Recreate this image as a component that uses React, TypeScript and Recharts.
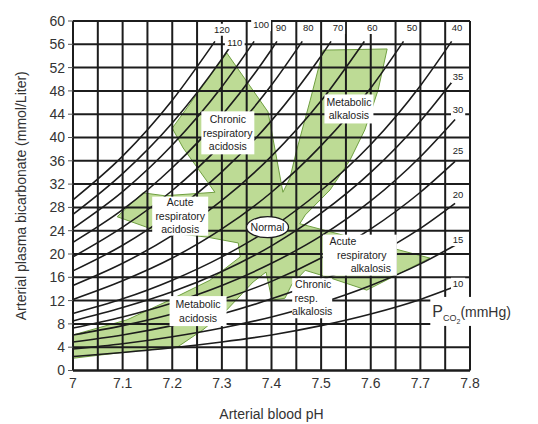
import React from "react"
import { CartesianGrid, ComposedChart, Scatter, XAxis, YAxis } from "recharts"

// PCO2 isopleths, [pH, HCO3-]
const iso10 = [[7.0, 2.4], [7.1, 3.1], [7.2, 3.9], [7.3, 4.9], [7.4, 6.1], [7.5, 7.7], [7.6, 9.7], [7.7, 12.2], [7.77, 14.4]]
const iso15 = [[7.0, 3.7], [7.1, 4.6], [7.2, 5.8], [7.3, 7.3], [7.4, 9.2], [7.5, 11.6], [7.6, 14.6], [7.7, 18.3], [7.77, 21.5]]
const iso20 = [[7.0, 4.9], [7.1, 6.1], [7.2, 7.7], [7.3, 9.7], [7.4, 12.3], [7.5, 15.4], [7.6, 19.4], [7.7, 24.4], [7.77, 28.7]]
const iso25 = [[7.0, 6.1], [7.1, 7.7], [7.2, 9.7], [7.3, 12.2], [7.4, 15.3], [7.5, 19.3], [7.6, 24.3], [7.7, 30.6], [7.77, 35.9]]
const iso30 = [[7.0, 7.3], [7.1, 9.2], [7.2, 11.6], [7.3, 14.6], [7.4, 18.4], [7.5, 23.1], [7.6, 29.1], [7.7, 36.7], [7.77, 43.1]]
const iso35 = [[7.0, 8.5], [7.1, 10.8], [7.2, 13.5], [7.3, 17.0], [7.4, 21.4], [7.5, 27.0], [7.6, 34.0], [7.7, 42.8], [7.77, 50.2]]
const iso40 = [[7.0, 9.8], [7.1, 12.3], [7.2, 15.5], [7.3, 19.5], [7.4, 24.5], [7.5, 30.9], [7.6, 38.8], [7.7, 48.9], [7.763, 56.5]]
const iso50 = [[7.0, 12.2], [7.1, 15.4], [7.2, 19.3], [7.3, 24.3], [7.4, 30.6], [7.5, 38.6], [7.6, 48.5], [7.666, 56.5]]
const iso60 = [[7.0, 14.6], [7.1, 18.4], [7.2, 23.2], [7.3, 29.2], [7.4, 36.8], [7.5, 46.3], [7.587, 56.5]]
const iso70 = [[7.0, 17.1], [7.1, 21.5], [7.2, 27.1], [7.3, 34.1], [7.4, 42.9], [7.5, 54.0], [7.52, 56.5]]
const iso80 = [[7.0, 19.5], [7.1, 24.6], [7.2, 30.9], [7.3, 38.9], [7.4, 49.0], [7.462, 56.5]]
const iso90 = [[7.0, 22.0], [7.1, 27.6], [7.2, 34.8], [7.3, 43.8], [7.4, 55.1], [7.411, 56.5]]
const iso100 = [[7.0, 24.4], [7.1, 30.7], [7.2, 38.7], [7.3, 48.7], [7.365, 56.5]]
const iso110 = [[7.0, 26.8], [7.1, 33.8], [7.2, 42.5], [7.3, 53.5], [7.324, 56.5]]
const iso120 = [[7.0, 29.3], [7.1, 36.8], [7.2, 46.4], [7.286, 56.5]]

const isopleths = [iso10, iso15, iso20, iso25, iso30, iso35, iso40, iso50, iso60, iso70, iso80, iso90, iso100, iso110, iso120]

// outline of the shaded (green) disorder zones
const regionPh = [7.310, 7.393, 7.423, 7.437, 7.451, 7.478, 7.504, 7.633, 7.615, 7.588, 7.558, 7.518, 7.468, 7.457, 7.719, 7.592, 7.518, 7.468, 7.441, 7.427, 7.401, 7.389, 7.363, 7.310, 7.262, 7.210, 7.109, 7.000, 7.000, 7.109, 7.195, 7.276, 7.337, 7.333, 7.270, 7.175, 7.089, 7.141, 7.185, 7.286, 7.222, 7.200, 7.310]
const regionHco3 = [54.5, 44.4, 30.6, 33.0, 37.9, 46.4, 55.0, 55.2, 48.2, 41.3, 36.1, 31.0, 26.7, 25.2, 19.3, 13.8, 15.9, 17.2, 14.8, 12.4, 12.1, 16.9, 15.2, 10.4, 7.0, 4.0, 3.2, 2.1, 6.1, 8.7, 12.1, 15.5, 19.5, 21.9, 22.9, 23.8, 26.4, 30.5, 30.0, 30.6, 38.2, 41.6, 54.5]

const regionLabels = ["Chronic\nrespiratory\nacidosis", "Metabolic\nalkalosis", "Acute\nrespiratory\nacidosis", "Acute\nrespiratory\nalkalosis", "Chronic\nresp.\nalkalosis", "Metabolic\nacidosis"]
const regionLabelPh = [7.312, 7.556, 7.216, 7.578, 7.482, 7.252]
const regionLabelHco3 = [40.8, 44.9, 26.5, 19.8, 12.4, 10.2]

const normalPh = 7.392
const normalHco3 = 24.6

const pco2Labels = ["120", "110", "100", "90", "80", "70", "60", "50", "40", "35", "30", "25", "20", "15", "10"]
const pco2LabelPh = [7.300, 7.326, 7.379, 7.419, 7.474, 7.534, 7.603, 7.683, 7.774, 7.776, 7.776, 7.776, 7.776, 7.776, 7.776]
const pco2LabelHco3 = [58.5, 56.2, 59.3, 58.8, 58.8, 58.8, 58.8, 58.8, 58.8, 50.4, 44.7, 37.8, 30.1, 22.4, 14.9]

const phTicks = [7, 7.05, 7.1, 7.15, 7.2, 7.25, 7.3, 7.35, 7.4, 7.45, 7.5, 7.55, 7.6, 7.65, 7.7, 7.75, 7.8]
const hco3Ticks = [0, 4, 8, 12, 16, 20, 24, 28, 32, 36, 40, 44, 48, 52, 56, 60]

const W = 530
const H = 416
const FONT = "'Liberation Sans', Arial, sans-serif"
const INK = "#1c1c1c"

const boxSizes = [[53, 43], [49, 29], [56, 39], [74, 41], [40, 40], [57, 30]]
const lineShift = [[0, 0, 0], [0, 0], [0, 0, 0], [-17, 2, 11], [1, -6, 0], [0, 0]]

const toPts = (arr: number[][]) => arr.map(([x, y]) => ({ x, y }))
const Nothing = () => <g />

function RegionLabel(props: any) {
  const { cx, cy, payload } = props
  const [w, h] = boxSizes[payload.i]
  const lines = payload.text.split("\n")
  const lh = 13.5
  const y0 = cy - ((lines.length - 1) * lh) / 2
  return (
    <g>
      <rect x={cx - w / 2} y={cy - h / 2} width={w} height={h} fill="#fff" />
      {lines.map((l: string, k: number) => (
        <text key={k} x={cx + lineShift[payload.i][k]} y={y0 + k * lh} dy="0.35em" textAnchor="middle" fontSize={10.5} fill="#222" fontFamily={FONT}>
          {l}
        </text>
      ))}
    </g>
  )
}

function NormalMark(props: any) {
  const { cx, cy } = props
  return (
    <g>
      <ellipse cx={cx} cy={cy} rx={21} ry={10.5} fill="#fff" stroke={INK} strokeWidth={1.3} />
      <text x={cx} y={cy} dy="0.35em" textAnchor="middle" fontSize={10.5} fill="#222" fontFamily={FONT}>
        Normal
      </text>
    </g>
  )
}

function Pco2Label(props: any) {
  const { cx, cy, payload } = props
  const w = payload.text.length * 5.6 + 3
  return (
    <g>
      <rect x={cx - w / 2} y={cy - 6} width={w} height={12} fill="#fff" />
      <text x={cx} y={cy} dy="0.35em" textAnchor="middle" fontSize={9.5} fill="#222" fontFamily={FONT}>
        {payload.text}
      </text>
    </g>
  )
}

function Pco2Title(props: any) {
  const { cx, cy } = props
  return (
    <g>
      <rect x={cx} y={cy - 13} width={104} height={29} fill="#fff" />
      <text x={cx + 2} y={cy + 7} fontSize={16} fill="#333" fontFamily={FONT}>
        P
        <tspan fontSize={9} dy={4}>CO</tspan>
        <tspan fontSize={7} dy={3}>2</tspan>
        <tspan fontSize={14} dy={-7}>(mmHg)</tspan>
      </text>
    </g>
  )
}

export default function App() {
  const regionData = regionPh.map((x, i) => ({ x, y: regionHco3[i] }))
  const labelData = regionLabels.map((text, i) => ({ x: regionLabelPh[i], y: regionLabelHco3[i], text, i }))
  const pco2Data = pco2Labels.map((text, i) => ({ x: pco2LabelPh[i], y: pco2LabelHco3[i], text }))

  const tickStyle = { fontSize: 14, fill: "#333", fontFamily: FONT }

  return (
    <div style={{ position: "relative", width: W, height: H, fontFamily: FONT }}>
      {/* shaded zones underneath the grid */}
      <div style={{ position: "absolute", left: 0, top: 0 }}>
        <ComposedChart width={W} height={H} margin={{ top: 13, right: 68, bottom: 53.5, left: 65 }}>
          <XAxis type="number" dataKey="x" domain={[7, 7.8]} hide />
          <YAxis type="number" dataKey="y" domain={[0, 60]} hide />
          <Scatter
            data={regionData}
            shape={Nothing}
            line={{ fill: "#bddb95", stroke: "#6f9f40", strokeWidth: 1 }}
            lineJointType="linear"
            isAnimationActive={false}
          />
        </ComposedChart>
      </div>

      <div style={{ position: "absolute", left: 0, top: 0 }}>
        <ComposedChart width={W} height={H} margin={{ top: 13, right: 68, bottom: 5.5, left: 5 }}>
          <CartesianGrid stroke={INK} strokeWidth={2} />
          <XAxis
            type="number"
            dataKey="x"
            domain={[7, 7.8]}
            ticks={phTicks}
            interval={0}
            height={48}
            tickLine={false}
            axisLine={{ stroke: INK, strokeWidth: 2 }}
            tick={tickStyle}
            tickFormatter={(v: number) => (Math.round(v * 100) % 10 === 0 ? String(+v.toFixed(1)) : "")}
            label={{ value: "Arterial blood pH", position: "insideBottom", offset: 0, style: { fontSize: 14, fill: "#333", fontFamily: FONT } }}
          />
          <YAxis
            type="number"
            dataKey="y"
            domain={[0, 60]}
            ticks={hco3Ticks}
            interval={0}
            width={60}
            tickSize={5}
            tickMargin={3}
            tickLine={{ stroke: "#555" }}
            axisLine={{ stroke: INK, strokeWidth: 2 }}
            tick={tickStyle}
            label={{
              value: "Arterial plasma bicarbonate (mmol/Liter)",
              angle: -90,
              position: "insideLeft",
              offset: 8,
              style: { textAnchor: "middle", fontSize: 14, fill: "#333", fontFamily: FONT },
            }}
          />
          {isopleths.map((iso, i) => (
            <Scatter
              key={i}
              data={toPts(iso)}
              shape={Nothing}
              line={{ stroke: INK, strokeWidth: 1.6 }}
              lineJointType="monotoneX"
              isAnimationActive={false}
            />
          ))}
          <Scatter data={labelData} shape={RegionLabel} isAnimationActive={false} />
          <Scatter data={[{ x: normalPh, y: normalHco3 }]} shape={NormalMark} isAnimationActive={false} />
          <Scatter data={pco2Data} shape={Pco2Label} isAnimationActive={false} />
          <Scatter data={[{ x: 7.72, y: 10.4 }]} shape={Pco2Title} isAnimationActive={false} />
        </ComposedChart>
      </div>
    </div>
  )
}
